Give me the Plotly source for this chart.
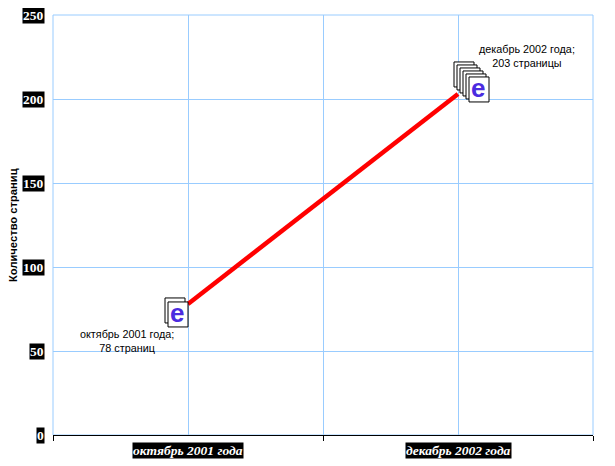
import plotly.graph_objects as go

months = ["октябрь 2001 года", "декабрь 2002 года"]
pages = [78, 203]
notes = ["октябрь 2001 года;<br>78 страниц", "декабрь 2002 года;<br>203 страницы"]
y_ticks = [0, 50, 100, 150, 200, 250]
y_title = "Количество страниц"
x_pos = [0, 1]
x_bounds = [-0.5, 0.5, 1.5]

GRID = "#99CCFF"
fig = go.Figure(go.Scatter(x=x_pos, y=pages, mode="lines",
                           line=dict(color="#FF0000", width=4.5),
                           hovertext=months, hoverinfo="text+y"))

ann = []
ann.append(dict(xref="paper", yref="paper", x=0, y=0.5, text=y_title, showarrow=False,
                textangle=-90, xanchor="center", yanchor="middle", xshift=-40,
                font=dict(family="Liberation Sans", size=11.2, color="black", weight="bold")))
for v in y_ticks:
    ann.append(dict(xref="paper", yref="y", x=0, y=v, text=str(v), showarrow=False,
                    xanchor="right", yanchor="middle", xshift=-8, bgcolor="black", borderpad=0,
                    font=dict(family="Liberation Serif", size=13.5, color="white", weight="bold")))
for x, m in zip(x_pos, months):
    ann.append(dict(xref="x", yref="paper", x=x, y=0, text=m, showarrow=False,
                    xanchor="center", yanchor="top", yshift=-7, bgcolor="black", borderpad=0,
                    font=dict(family="Liberation Serif", size=13.5, color="white", weight="bold", style="italic")))
note_shift = [(-61, -37), (69, 38)]
for x, y, n, (sx, sy) in zip(x_pos, pages, notes, note_shift):
    ann.append(dict(xref="x", yref="y", x=x, y=y, text=n, showarrow=False, xshift=sx, yshift=sy,
                    xanchor="center", yanchor="middle",
                    font=dict(family="Liberation Sans", size=10.8, color="black")))

# Frame: the plot-area edges carry grid-coloured lines, which the axis grid leaves out
shapes = [dict(type="rect", xref="paper", yref="paper", x0=0, x1=1, y0=0, y1=1,
               line=dict(color=GRID, width=1), layer="below")]

# Page icons stacked at each data point
icon_specs = [(2, -23, 6, 3, 4), (6, -4, 32, 3, 3)]
for x, y, (count, left, top, dx, dy) in zip(x_pos, pages, icon_specs):
    for i in range(count):
        l = left + i * dx
        t = top - i * dy
        shapes.append(dict(type="rect", xref="x", yref="y", xsizemode="pixel", ysizemode="pixel",
                           xanchor=x, yanchor=y, x0=l, x1=l + 20, y0=t, y1=t - 25,
                           line=dict(color="black", width=1), fillcolor="white"))
    last_l = left + (count - 1) * dx
    last_t = top - (count - 1) * dy
    ann.append(dict(xref="x", yref="y", x=x, y=y, text="e", showarrow=False,
                    xshift=last_l + 9, yshift=last_t - 11, xanchor="center", yanchor="middle",
                    font=dict(family="Liberation Sans", size=26, color="#4B2BE0", weight="bold")))

# the page body adds an 8px margin, so the figure is smaller and its margins start inside it
fig.update_layout(
    width=607, height=458, margin=dict(l=45, r=22, t=7, b=31),
    paper_bgcolor="white", plot_bgcolor="white", showlegend=False,
    annotations=ann, shapes=shapes,
    xaxis=dict(range=[-0.5, 1.5], tickvals=x_pos, ticktext=["", ""], ticks="", showgrid=True,
               gridcolor=GRID, gridwidth=1, showline=True, linecolor="black", linewidth=1,
               zeroline=False,
               minor=dict(tickvals=x_bounds, ticks="outside", ticklen=5, tickcolor="black",
                          showgrid=True, gridcolor=GRID, gridwidth=1)),
    yaxis=dict(range=[0, 250], tickvals=y_ticks, showticklabels=False, ticks="", showgrid=True,
               gridcolor=GRID, gridwidth=1, zeroline=False, showline=False),
)
fig.write_html("out.html")
